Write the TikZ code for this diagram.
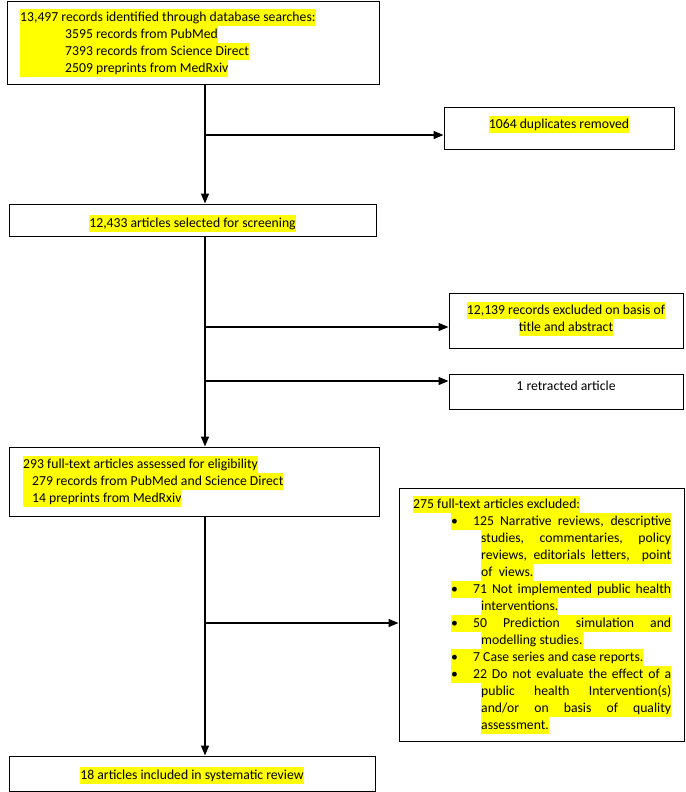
\documentclass[tikz,border=0pt]{standalone}
\usepackage{fontspec}
\setmainfont{Carlito}
\usepackage{tikz}
\usetikzlibrary{arrows.meta}

\definecolor{hlyellow}{HTML}{FFFF00}
\setlength{\fboxsep}{0pt}
\newcommand{\hstrut}{\rule[-4.5pt]{0pt}{17pt}}
\newcommand{\hlt}[1]{\colorbox{hlyellow}{\hstrut#1}}
\newcommand{\bitem}[1]{\hspace*{38pt}\hlt{\makebox[22pt][l]{\textbullet}#1}}
\newcommand{\bcont}[1]{\hspace*{68pt}\hlt{#1}}

\begin{document}
\begin{tikzpicture}[>={Triangle[length=10pt,width=8pt]},x=1pt,y=-1pt,
    box/.style={draw,line width=1pt,inner sep=0pt},
    txt/.style={inner sep=0pt,font=\fontsize{13.7}{17}\selectfont},
    flow/.style={->,line width=1.4pt}]
	  \useasboundingbox (0,0) rectangle (685,792);
	  % boxes
	  \node[box,minimum width=372pt,minimum height=82pt] (search) at (193,43) {};
	  \node[box,minimum width=230pt,minimum height=42pt] (dup) at (559,128) {};
	  \node[box,minimum width=367pt,minimum height=32pt] (screen) at (192.5,220) {};
	  \node[box,minimum width=234pt,minimum height=55pt] (excl) at (566,320.5) {};
	  \node[box,minimum width=234pt,minimum height=35pt] (retr) at (566,391.5) {};
	  \node[box,minimum width=370pt,minimum height=69pt] (elig) at (194,481.5) {};
	  \node[box,minimum width=285pt,minimum height=253pt] (ftex) at (541.5,614.5) {};
	  \node[box,minimum width=366pt,minimum height=35pt] (incl) at (192,773.5) {};
	  % texts
	  \node[txt,align=left,anchor=north west] (searchtxt) at (20,8.5)
	    {\hlt{13,497 records identified through database searches:}\\
	     \hlt{\hspace*{45pt}3595 records from PubMed}\\
	     \hlt{\hspace*{45pt}7393 records from Science Direct}\\
	     \hlt{\hspace*{45pt}2509 preprints from MedRxiv}};
	  \node[txt,anchor=north] (duptxt) at (559,115.5) {\hlt{1064 duplicates removed}};
	  \node[txt,anchor=north] (screentxt) at (192.5,214.5) {\hlt{12,433 articles selected for screening}};
	  \node[txt,align=center,anchor=north] (excltxt) at (566,301.5)
	    {\hlt{12,139 records excluded on basis of}\\ \hlt{title and abstract}};
	  \node[txt,anchor=north] (retrtxt) at (566,380.5) {1 retracted article};
	  \node[txt,align=left,anchor=north west] (eligtxt) at (23,455.5)
	    {\hlt{293 full-text articles assessed for eligibility}\\
	     \hlt{\hspace*{9pt}279 records from PubMed and Science Direct}\\
	     \hlt{\hspace*{9pt}14 preprints from MedRxiv}};
	  \node[txt,align=left,anchor=north west] (ftextxt) at (413,496)
	    {\hlt{275 full-text articles excluded:}\\
	     \bitem{\makebox[198pt][s]{125 Narrative reviews, descriptive}}\\
	     \bcont{\makebox[190pt][s]{studies, commentaries, policy}}\\
	     \bcont{\makebox[190pt][s]{reviews, editorials letters, \ point}}\\
	     \bcont{of \ views.}\\
	     \bitem{\makebox[198pt][s]{71 Not implemented public health}}\\
	     \bcont{interventions.}\\
	     \bitem{\makebox[198pt][s]{50 Prediction simulation and}}\\
	     \bcont{modelling studies.}\\
	     \bitem{7 Case series and case reports.}\\
	     \bitem{\makebox[198pt][s]{22 Do not evaluate the effect of a}}\\
	     \bcont{\makebox[190pt][s]{public health Intervention(s)}}\\
	     \bcont{\makebox[190pt][s]{and/or on basis of quality}}\\
	     \bcont{assessment.}};
	  \node[txt,anchor=north] (incltxt) at (192,766.5) {\hlt{18 articles included in systematic review}};
	  % connectors
	  \coordinate (j1) at (205,135);
	  \coordinate (j2) at (205,327);
	  \coordinate (j3) at (205,381);
	  \coordinate (j4) at (205,623);
	  \draw[flow] (search.south -| j1) -- (screen.north -| j1);
	  \draw[flow] (j1) -- (j1 -| dup.west);
	  \draw[flow] (screen.south -| j2) -- (elig.north -| j2);
	  \draw[flow] (j2) -- (j2 -| excl.west);
	  \draw[flow] (j3) -- (j3 -| retr.west);
	  \draw[flow] (elig.south -| j4) -- (incl.north -| j4);
	  \draw[flow] (j4) -- (j4 -| ftex.west);
	\end{tikzpicture}
\end{document}
